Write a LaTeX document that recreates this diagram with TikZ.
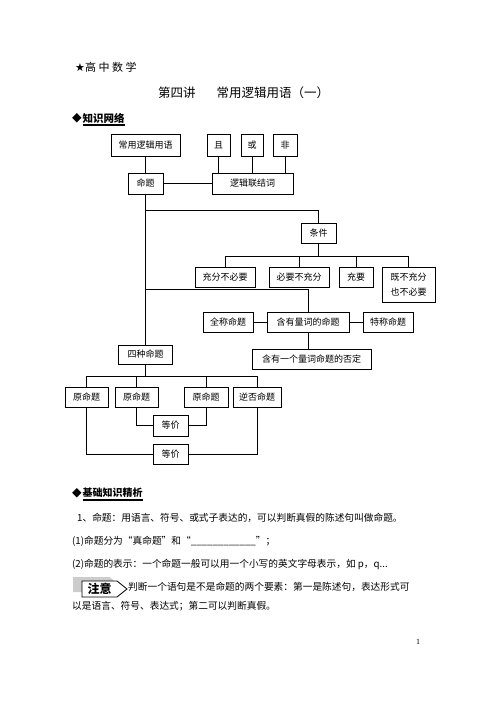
\documentclass[tikz,border=0pt]{standalone}
\usepackage{fontspec}
\setmainfont{Noto Sans CJK SC}
\newfontfamily\symfont{DejaVu Sans}
\newfontfamily\numfont{Liberation Serif}
\usetikzlibrary{positioning}
\usetikzlibrary{calc}

\begin{document}
\begin{tikzpicture}[x=1pt, y=-1pt, every node/.style={inner sep=0pt, font=\fontsize{9}{11}\selectfont}, box/.style={draw, line width=0.7pt, minimum height=20pt, align=center}, link/.style={line width=0.7pt}, txt/.style={anchor=west, font=\fontsize{9.7}{12}\selectfont}]
        \useasboundingbox (0,0) rectangle (496,702);
        % Define the y of the note line
        \def\Y{587}

        % Draw the page header
        \node[anchor=west, font=\fontsize{11}{13}\selectfont] (hd) at (75,67) {{\symfont ★}高\kern2.5pt 中\kern2.5pt 数\kern2.5pt 学};
        \node[anchor=west, font=\fontsize{12.5}{15}\selectfont] (title) at (158,93) {第四讲\hspace{21pt}常用逻辑用语（一）};
        \node[anchor=west, font=\symfont\fontsize{12.5}{14}\selectfont] (dm1) at (72,118) {◆};
        \node[right=0.5pt of dm1, font=\bfseries\fontsize{10.5}{12}\selectfont] (sec1) {知识网络};
        \draw[line width=1.6pt] ($(sec1.south west)+(0,2)$) -- ($(sec1.south east)+(0,2)$);

        % Draw the top boxes
        \node[box, minimum width=69pt, minimum height=22pt] (root) at (145.5,145) {常用逻辑用语};
        \node[box, minimum width=23pt, minimum height=22pt] (qie) at (218.5,145) {且};
        \node[box, minimum width=22pt, minimum height=22pt] (huo) at (252,145) {或};
        \node[box, minimum width=24pt, minimum height=22pt] (fei) at (285,145) {非};
        \node[box, minimum width=35pt, minimum height=21pt] (mt) at (145.5,183.5) {命题};
        \node[box, minimum width=81pt, minimum height=21pt] (ljc) at (252.5,183.5) {逻辑联结词};

        % Draw the condition boxes
        \node[box, minimum width=35pt] (tj) at (318.5,233) {条件};
        \node[box, minimum width=60pt] (cb) at (225,277) {充分不必要};
        \node[box, minimum width=60pt] (bc) at (299,277) {必要不充分};
        \node[box, minimum width=34pt] (cy) at (356,277) {充要};
        \node[box, minimum width=53pt, minimum height=35pt, font=\fontsize{9}{15}\selectfont] (jb) at (408.5,284.5) {既不充分\\也不必要};

        % Draw the quantifier boxes
        \node[box, minimum width=50pt] (qc) at (228,322) {全称命题};
        \node[box, minimum width=82pt] (hl) at (308,322) {含有量词的命题};
        \node[box, minimum width=50pt] (tc) at (388,322) {特称命题};
        \node[box, minimum width=119pt] (fd) at (311.5,359) {含有一个量词命题的否定};

        % Draw the four propositions
        \node[box, minimum width=54pt, minimum height=19pt] (sz) at (145.5,354.5) {四种命题};
        \node[box, minimum width=43pt] (y1) at (86.5,397) {原命题};
        \node[box, minimum width=43pt] (y2) at (136.5,397) {原命题};
        \node[box, minimum width=44pt] (y3) at (206,397) {原命题};
        \node[box, minimum width=48pt] (nf) at (257,397) {逆否命题};
        \node[box, minimum width=35pt, minimum height=21pt] (dj1) at (170.5,425.5) {等价};
        \node[box, minimum width=35pt] (dj2) at (170.5,454) {等价};

        % Connect the boxes
        \draw[link] (root) -- (mt);
        \draw[link] (mt) -- (ljc);
        \foreach \n in {qie,huo,fei}
        {
          \draw[link] (\n) -- (\n |- ljc.north);
        }
        \coordinate (b1) at (mt |- 0,210);
        \coordinate (b2) at (mt |- 0,289);
        \draw[link] (mt) -- (sz);
        \draw[link] (b1) -| (tj);
        \draw[link] (b2) -| (hl);

        \coordinate (c1) at (tj |- 0,256);
        \draw[link] (tj) -- (c1);
        \foreach \n in {cb,bc,cy,jb}
        {
          \draw[link] (c1) -| (\n);
        }

        \draw[link] (qc) -- (hl);
        \draw[link] (hl) -- (tc);
        \draw[link] (hl) -- (hl |- fd.north);

        \coordinate (d1) at (sz |- 0,376);
        \draw[link] (sz) -- (d1);
        \foreach \n in {y1,y2,y3,nf}
        {
          \draw[link] (d1) -| (\n);
        }
        \draw[link] (y2) |- (dj1);
        \draw[link] (y3) |- (dj1);
        \draw[link] (y1) |- (dj2);
        \draw[link] (nf) |- (dj2);

        % Draw the second section
        \node[anchor=west, font=\symfont\fontsize{12.5}{14}\selectfont] (dm2) at (72,493) {◆};
        \node[right=0.5pt of dm2, font=\bfseries\fontsize{10}{12}\selectfont] (sec2) {基础知识精析};
        \draw[line width=1.6pt] ($(sec2.south west)+(0,2)$) -- ($(sec2.south east)+(0,2)$);

        \node[txt] (l1) at (77,518) {1、命题：用语言、符号、或式子表达的，可以判断真假的陈述句叫做命题。};
        \node[txt] (l2) at (72,541) {(1)命题分为“真命题”和“\_\_\_\_\_\_\_\_\_\_\_\_”；};
        \node[txt] (l3) at (72,564) {(2)命题的表示：一个命题一般可以用一个小写的英文字母表示，如 p，q...};

        % Draw the note tag
        \fill[gray!40] (73,\Y-10) -- (110,\Y-10) -- (116,\Y-4) -- (116,\Y+5) -- (73,\Y+5) -- cycle;
        \draw[fill=white, line width=0.8pt] (82,\Y-6) -- (117,\Y-6) -- (127,\Y+2) -- (117,\Y+10) -- (82,\Y+10) -- cycle;
        \node[font=\bfseries\fontsize{12}{14}\selectfont] (zy) at (99.5,\Y+2) {注意};
        \node[txt] (l4) at (128,\Y) {判断一个语句是不是命题的两个要素：第一是陈述句，表达形式可};
        \node[txt] (l5) at (72,\Y+19) {以是语言、符号、表达式；第二可以判断真假。};

        \node[font=\numfont\fontsize{8}{10}\selectfont] (pg) at (418,642) {1};
      \end{tikzpicture}
\end{document}
